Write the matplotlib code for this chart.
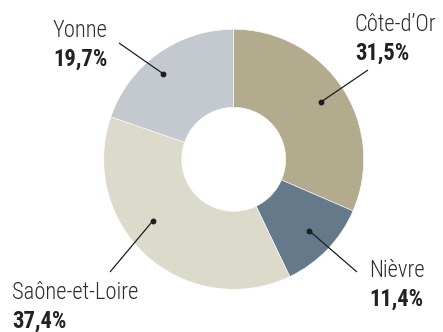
import numpy as np
import matplotlib
matplotlib.use("Agg")
import matplotlib.pyplot as plt

# parts of the total, in percent
departements = ["Côte-d\u2019Or", "Nièvre", "Saône-et-Loire", "Yonne"]
parts = [31.5, 11.4, 37.4, 19.7]
pct_labels = ["31,5%", "11,4%", "37,4%", "19,7%"]
colors = ["#b3ab8d", "#647a8b", "#dcdacb", "#c4c9d0"]

W, H = 443, 332
CX, CY, R = 233.7, 159.3, 130.0  # pie centre and radius in pixels

# label anchors (left edge, name baseline) and leader-line ends, in pixels
label_px = [(355, 31), (369, 277), (12, 299), (53, 37)]
line_end_px = [(368, 70), (357, 272), (110, 272), (119, 43)]
# small nudges of the dot along / across each wedge
dot_shift = [(0.0, 0.80), (0.5, 0.80), (-11.0, 0.78), (4.0, 0.85)]


def to_data(px, py):
    return (px - CX) / R, (CY - py) / R


plt.rcParams["font.family"] = ["Roboto Condensed", "Roboto", "DejaVu Sans"]

fig = plt.figure(figsize=(W / 100, H / 100), dpi=100)
ax = fig.add_axes([0, 0, 1, 1])

wedges, _ = ax.pie(parts, colors=colors, startangle=90, counterclock=False,
                   radius=1.0,
                   wedgeprops=dict(width=0.6, linewidth=0.4, edgecolor="white"))

# pie() resets the limits, so set them afterwards
ax.set_xlim(-CX / R, (W - CX) / R)
ax.set_ylim(-(H - CY) / R, CY / R)
ax.set_aspect("equal")
ax.axis("off")

for i, w in enumerate(wedges):
    dang, rr = dot_shift[i]
    mid = np.deg2rad((w.theta1 + w.theta2) / 2 + dang)
    x0, y0 = rr * np.cos(mid), rr * np.sin(mid)
    x1, y1 = to_data(*line_end_px[i])
    ax.plot([x0, x1], [y0, y1], color="#1e1e1e", lw=0.9, solid_capstyle="butt")
    ax.plot(x0, y0, "o", color="#1e1e1e", ms=3.2)

    lx, ly = label_px[i]
    tx, ty = to_data(lx, ly)
    ax.text(tx, ty, departements[i], ha="left", va="baseline", fontsize=16.3,
            fontweight="light", color="#2e2e2e")
    tx, ty = to_data(lx, ly + 29)
    ax.text(tx, ty, pct_labels[i], ha="left", va="baseline", fontsize=16.3,
            fontweight="bold", color="#222222")

fig.savefig("out.png", dpi=100)
